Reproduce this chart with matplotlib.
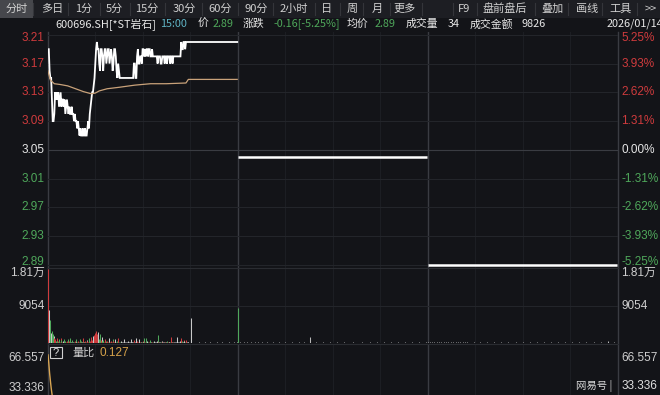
import matplotlib.pyplot as plt
from matplotlib.patches import Rectangle
from matplotlib.lines import Line2D
import matplotlib.transforms as mtransforms
import numpy as np

# ---------------- data ----------------
prev_close = 3.05
price_ticks = [3.21, 3.17, 3.13, 3.09, 3.05, 3.01, 2.97, 2.93, 2.89]
pct_labels = ["5.25%", "3.93%", "2.62%", "1.31%", "0.00%", "-1.31%", "-2.62%", "-3.93%", "-5.25%"]

# day 1 minute prices (241 minutes)
p1 = [
    3.19, 3.19, 3.16, 3.15, 3.15, 3.12, 3.09, 3.09, 3.10, 3.13, 3.12, 3.13, 3.12, 3.13, 3.11, 3.12, 3.13, 3.11, 3.12, 3.12,
    3.11, 3.12, 3.10, 3.11, 3.12, 3.11, 3.10, 3.11, 3.10, 3.10, 3.11, 3.10, 3.10, 3.09, 3.10, 3.09, 3.09, 3.08, 3.09, 3.08,
    3.07, 3.08, 3.07, 3.07, 3.08, 3.07, 3.07, 3.08, 3.07, 3.07, 3.08, 3.09, 3.08, 3.10, 3.11, 3.12, 3.13, 3.13, 3.14, 3.15,
    3.17, 3.19, 3.20, 3.19, 3.19, 3.17, 3.16, 3.19, 3.19, 3.18, 3.16, 3.18, 3.19, 3.19, 3.17, 3.18, 3.19, 3.19, 3.17, 3.18,
    3.19, 3.18, 3.16, 3.17, 3.19, 3.19, 3.18, 3.16, 3.15, 3.17, 3.16, 3.15, 3.15, 3.15, 3.15, 3.15, 3.15, 3.15, 3.15, 3.15,
    3.15, 3.15, 3.15, 3.15, 3.15, 3.15, 3.15, 3.15, 3.15, 3.17, 3.17, 3.15, 3.15, 3.18, 3.19, 3.17, 3.17, 3.18, 3.18, 3.17,
    3.19, 3.19, 3.18, 3.19, 3.18, 3.19, 3.19, 3.18, 3.19, 3.19, 3.18, 3.18, 3.19, 3.18, 3.18, 3.18, 3.18, 3.18, 3.18, 3.17,
    3.18, 3.18, 3.18, 3.17, 3.17, 3.18, 3.18, 3.18, 3.17, 3.18, 3.18, 3.17, 3.18, 3.18, 3.18, 3.17, 3.18, 3.18, 3.17, 3.18,
    3.18, 3.18, 3.18, 3.18, 3.18, 3.18, 3.18, 3.18, 3.18, 3.20, 3.19, 3.19, 3.20, 3.20, 3.19, 3.20, 3.20, 3.20, 3.20, 3.20,
    3.20, 3.20, 3.20, 3.20, 3.20, 3.20, 3.20, 3.20, 3.20, 3.20, 3.20, 3.20, 3.20, 3.20, 3.20, 3.20, 3.20, 3.20, 3.20, 3.20,
    3.20, 3.20, 3.20, 3.20, 3.20, 3.20, 3.20, 3.20, 3.20, 3.20, 3.20, 3.20, 3.20, 3.20, 3.20, 3.20, 3.20, 3.20, 3.20, 3.20,
    3.20, 3.20, 3.20, 3.20, 3.20, 3.20, 3.20, 3.20, 3.20, 3.20, 3.20, 3.20, 3.20, 3.20, 3.20, 3.20, 3.20, 3.20, 3.20, 3.20,
    3.20,
]
p2 = 3.04
p3 = 2.89

# day 1 average price line (read points)
avg_min = [0, 1, 3, 8, 15, 25, 35, 45, 55, 60, 65, 75, 90, 110, 130, 150, 175, 178, 240]
avg_val = [3.160, 3.155, 3.147, 3.142, 3.141, 3.139, 3.135, 3.131, 3.128, 3.129, 3.132, 3.135,
           3.137, 3.140, 3.142, 3.142, 3.143, 3.148, 3.148]

# day 1 minute volume
vol1 = [
    18100, 8100, 5700, 4500, 2400, 3000, 2100, 1800, 1200, 900, 600, 1300, 500, 400, 900, 300, 1100, 700, 300, 500,
    1000, 300, 600, 200, 400, 900, 300, 500, 1200, 300, 400, 800, 200, 300, 500, 1000, 300, 200, 600, 300,
    900, 200, 400, 300, 1100, 300, 200, 500, 300, 800, 400, 300, 1200, 600, 900, 1400, 800, 1600, 1900, 2400,
    1500, 2900, 2200, 1200, 2600, 900, 2100, 700, 1400, 500, 800, 300, 1000, 200, 400, 600, 300, 1200, 300, 200,
    500, 300, 900, 400, 200, 1000, 300, 200, 600, 1100, 300, 200, 400, 200, 300, 200, 900, 200, 300, 200,
    200, 600, 200, 300, 200, 1000, 300, 200, 300, 700, 200, 300, 1100, 400, 200, 300, 900, 200, 300, 200,
    600, 200, 1300, 300, 1200, 200, 400, 300, 200, 300, 700, 200, 300, 200, 400, 300, 200, 300, 500, 2000,
    300, 200, 300, 200, 400, 200, 300, 200, 200, 300, 200, 400, 200, 300, 200, 200, 1350, 200, 300, 200,
    200, 300, 200, 1350, 200, 300, 200, 200, 600, 1200, 400, 300, 700, 500, 300, 800, 200, 300, 200, 100,
    100, 6150, 100, 0, 100, 100, 0, 100, 0, 100, 100, 0, 150, 0, 100, 0, 0, 100, 0, 150,
    0, 100, 0, 0, 100, 0, 150, 0, 100, 0, 0, 100, 0, 0, 150, 0, 100, 0, 0, 100,
    0, 150, 0, 0, 100, 0, 100, 0, 0, 150, 0, 100, 0, 0, 100, 0, 150, 0, 100, 0,
    200,
]
# day 2 / day 3 trades (sparse minutes)
vol2_min = [0, 3, 7, 12, 16, 21, 26, 31, 37, 44, 52, 60, 68, 77, 84, 91, 99, 108, 117, 126, 135,
            146, 157, 168, 176, 185, 194, 203, 212, 221, 230, 238]
vol2_val = [8550, 200, 150, 250, 150, 200, 150, 200, 150, 150, 200, 150, 150, 200, 150, 1400, 150,
            200, 150, 150, 200, 150, 150, 200, 150, 150, 200, 150, 150, 200, 150, 200]
vol3_min = [0, 2, 5, 8, 11, 14, 17, 20, 23, 26, 29, 32, 35, 38, 41, 44, 47, 50, 58, 66, 75, 84, 93,
            102, 111, 120, 129, 138, 147, 156, 165, 174, 183, 192, 201, 210, 219, 228, 236]
vol3_val = [300, 250, 300, 250, 300, 250, 300, 250, 300, 250, 300, 250, 300, 250, 300, 250, 300, 250,
            150, 200, 150, 150, 200, 150, 150, 200, 150, 150, 200, 150, 150, 200, 150, 150, 200, 150,
            150, 400, 150]
vol_ticks = [18100, 9054]
vol_labels = ["1.81万", "9054"]

# volume ratio (量比), day 1
qrr_min = [0, 1, 2, 3, 4, 5, 6, 8, 10, 15, 20, 30, 45, 60, 90, 120, 150, 180, 210, 240]
qrr_val = [70.0, 61.0, 50.0, 41.5, 33.5, 27.0, 21.0, 14.0, 10.5, 6.5, 4.8, 3.2, 2.1, 1.6, 1.0,
           0.7, 0.5, 0.35, 0.25, 0.127]
qrr_ticks = [66.557, 33.336]

tabs = ["分时", "多日", "1分", "5分", "15分", "30分", "60分", "90分", "2小时", "日", "周", "月", "更多",
        "F9", "盘前盘后", "叠加", "画线", "工具", ">>"]
tab_x = [17, 52, 84, 114, 147, 184, 220, 256, 294, 327, 352, 377, 405, 464, 505, 552, 587, 620, 651]
tab_sep = [33, 68, 100, 130, 165, 202, 238, 273, 315, 340, 363, 390, 422, 453, 477, 535, 568, 602, 637]

# ---------------- style ----------------
W, H = 660, 395
BG = "#131418"
GRID = "#23252a"
DIV = "#3a3c42"
RED = "#cf3b3d"
GREEN = "#4fa85b"
TXT = "#cfcfcf"
NUM = ["Liberation Sans", "Noto Sans CJK SC"]
CJK = ["Noto Sans CJK SC", "DejaVu Sans"]
plt.rcParams["font.family"] = CJK

fig = plt.figure(figsize=(W / 100, H / 100), dpi=100, facecolor=BG)


def fx(x):
    return x / W


def fy(y):
    return 1 - y / H


def add_ax(x0, y0, x1, y1):
    ax = fig.add_axes([fx(x0), fy(y1), (x1 - x0) / W, (y1 - y0) / H])
    ax.set_facecolor(BG)
    for s in ax.spines.values():
        s.set_visible(False)
    ax.set_xticks([])
    ax.set_yticks([])
    ax.set_xlim(0, 723)
    return ax


day0 = [0, 241, 482]


def day_lines(ax):
    for d in day0:
        for q in (60, 120, 180):
            ax.axvline(d + q, color="#1c1e23", lw=0.8)
    for d in day0[1:]:
        ax.axvline(d, color=DIV, lw=1.0)
    ax.axvline(0, color=DIV, lw=1.0, clip_on=False)
    ax.axvline(723, color=DIV, lw=1.0, clip_on=False)


# price pane
axp = add_ax(48, 32, 618, 268)
axp.set_ylim(2.8858, 3.2139)
day_lines(axp)
for p in price_ticks:
    axp.axhline(p, color=DIV if p == prev_close else GRID, lw=0.8)
m = np.arange(241)
axp.plot(m, p1, color="white", lw=1.3, solid_joinstyle="miter")
axp.plot(avg_min, avg_val, color="#c9a27a", lw=0.9)
axp.hlines(p2, day0[1], day0[1] + 240, color="white", lw=1.8)
axp.hlines(p3, day0[2], day0[2] + 240, color="white", lw=1.8)

trp = mtransforms.blended_transform_factory(axp.transAxes, axp.transData)
for i, (p, lab) in enumerate(zip(price_ticks, pct_labels)):
    col = RED if p > prev_close else (GREEN if p < prev_close else "#e6e6e6")
    yy = p
    if i == 0:
        yy = p - 0.0042
    if i == len(price_ticks) - 1:
        yy = p + 0.0035
    axp.text(-0.006, yy, f"{p:.2f}", transform=trp, ha="right", va="center",
             color=col, fontsize=8.5, family=NUM)
    axp.text(1.006, yy, lab, transform=trp, ha="left", va="center",
             color=col, fontsize=8.5, family=NUM)

# volume pane
axv = add_ax(48, 268, 618, 343)
axv.set_ylim(0, 18300)
day_lines(axv)
axv.axhline(vol_ticks[1], color=GRID, lw=0.8)
prev = [prev_close] + p1[:-1]
cols = [RED if a > b else (GREEN if a < b else "#c8c8c8") for a, b in zip(p1, prev)]
axv.vlines(m, 0, vol1, colors=cols, lw=0.75)
axv.vlines(np.array(vol2_min) + day0[1], 0, vol2_val,
           colors=[GREEN] + ["#b8b8b8"] * (len(vol2_min) - 1), lw=0.75)
axv.vlines(np.array(vol3_min) + day0[2], 0, vol3_val, colors="#b8b8b8", lw=0.75)
trv = mtransforms.blended_transform_factory(axv.transAxes, axv.transData)
axv.text(-0.006, vol_ticks[0] - 900, vol_labels[0], transform=trv, ha="right", va="center",
         color=TXT, fontsize=8.5, family=NUM)
axv.text(1.006, vol_ticks[0] - 900, vol_labels[0], transform=trv, ha="left", va="center",
         color=TXT, fontsize=8.5, family=NUM)
for side, ha in ((-0.006, "right"), (1.006, "left")):
    axv.text(side, vol_ticks[1], vol_labels[1], transform=trv, ha=ha, va="center",
             color=TXT, fontsize=8.5, family=NUM)

# volume ratio pane
axq = add_ax(48, 344, 618, 395)
axq.set_ylim(25.6, 82.1)
day_lines(axq)
axq.plot(qrr_min, qrr_val, color="#d9a653", lw=1.0)
trq = mtransforms.blended_transform_factory(axq.transAxes, axq.transData)
for v in qrr_ticks:
    axq.text(-0.006, v, f"{v:.3f}", transform=trq, ha="right", va="center",
             color=TXT, fontsize=8.5, family=NUM)
axq.text(1.006, qrr_ticks[0], f"{qrr_ticks[0]:.3f}", transform=trq, ha="left", va="center",
         color=TXT, fontsize=8.5, family=NUM)
axq.text(1.006, qrr_ticks[1] + 2.5, f"{qrr_ticks[1]:.3f}", transform=trq, ha="left", va="center",
         color="#e0e0e0", fontsize=8.5, family=NUM)
fig.text(fx(612), fy(386), "网易号 |", ha="right", va="center", color="#d8d8d8", fontsize=7.5)

# pane separators
for y in (268, 344):
    fig.add_artist(Line2D([fx(48), fx(618)], [fy(y), fy(y)], color="#2a2c31", lw=0.8))

# indicator title
fig.add_artist(Rectangle((fx(50), fy(358)), 12 / W, 11 / H, fill=False, ec="#cfcfcf", lw=0.8))
fig.text(fx(56), fy(352.5), "?", ha="center", va="center", color="#e0e0e0", fontsize=8, family=NUM)
fig.text(fx(72), fy(352.5), "量比", ha="left", va="center", color=TXT, fontsize=8)
fig.text(fx(100), fy(352.5), "0.127", ha="left", va="center", color="#d6a24a", fontsize=8.5, family=NUM)

# toolbar
fig.add_artist(Rectangle((0, fy(18)), 1, 18 / H, color="#1d1e23", lw=0))
fig.add_artist(Rectangle((0, fy(18)), 33 / W, 18 / H, color="#46474c", lw=0))
for sx in tab_sep:
    fig.add_artist(Line2D([fx(sx), fx(sx)], [fy(3), fy(15)], color="#34353a", lw=0.8))
for t, x in zip(tabs, tab_x):
    fig.text(fx(x), fy(9), t, ha="center", va="center", color="#d0d0d0", fontsize=8)

# info row
info = [
    (55, "600696.SH[*ST岩石]", "#e8e8e8"), (160, "15:00", "#5fb3c4"), (198, "价", "#e8e8e8"),
    (213, "2.89", GREEN), (243, "涨跌", "#e8e8e8"), (273, "-0.16[-5.25%]", GREEN),
    (347, "均价", "#e8e8e8"), (375, "2.89", GREEN), (406, "成交量", "#e8e8e8"),
    (448, "34", "#e8e8e8"), (470, "成交金额", "#e8e8e8"), (522, "9826", "#e8e8e8"),
    (607, "2026/01/14", "#e8e8e8"),
]
for x, t, c in info:
    fig.text(fx(x), fy(24), t, ha="left", va="center", color=c, fontsize=7.8)

fig.savefig("out.png", dpi=100, facecolor=BG)
